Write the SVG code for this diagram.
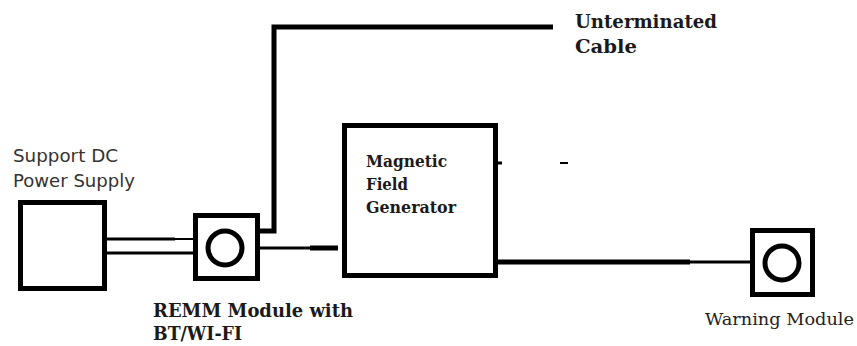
<svg xmlns="http://www.w3.org/2000/svg" width="857" height="346" viewBox="0 0 857 346">
<style>
.box{fill:#fff;stroke:#000;stroke-width:5}
.ring{fill:none;stroke:#000;stroke-width:5}
.w{fill:none;stroke:#000;stroke-linecap:butt}
.bold{font-family:"DejaVu Serif","Liberation Serif",serif;font-weight:bold;fill:#1a1a1a}
.sans{font-family:"DejaVu Sans","Liberation Sans",sans-serif;fill:#333;font-size:17px}
.serif{font-family:"DejaVu Serif","Liberation Serif",serif;fill:#222;font-size:17px}
</style>
<rect width="857" height="346" fill="#fff"/>
<g id="connectors">
<line class="w" x1="106" y1="239" x2="175" y2="239" stroke-width="3"/>
<line class="w" x1="175" y1="239" x2="194" y2="239" stroke-width="2"/>
<line class="w" x1="100" y1="253" x2="194" y2="253" stroke-width="3"/>
<polyline class="w" points="258,231 274,231 274,27 553,27" stroke-width="5"/>
<line class="w" x1="260" y1="248" x2="310" y2="248" stroke-width="3"/>
<line class="w" x1="310" y1="248" x2="338" y2="248" stroke-width="5"/>
<line class="w" x1="496" y1="262" x2="690" y2="262" stroke-width="5"/>
<line class="w" x1="690" y1="262" x2="751" y2="262" stroke-width="3"/>
</g>
<g id="power-supply">
<rect class="box" x="20.5" y="202.5" width="84" height="86"/>
<text class="sans" x="13" y="162" textLength="105" lengthAdjust="spacingAndGlyphs">Support DC</text>
<text class="sans" x="13" y="187" textLength="122" lengthAdjust="spacingAndGlyphs">Power Supply</text>
</g>
<g id="remm-module">
<rect class="box" x="195.5" y="215.5" width="62" height="63"/>
<circle class="ring" cx="225" cy="248" r="17"/>
<text class="bold" x="153" y="317" font-size="19" textLength="200" lengthAdjust="spacingAndGlyphs">REMM Module with</text>
<text class="bold" x="153" y="340" font-size="19" textLength="89" lengthAdjust="spacingAndGlyphs">BT/WI-FI</text>
</g>
<g id="unterminated-cable">
<text class="bold" x="575" y="28" font-size="18" textLength="142" lengthAdjust="spacingAndGlyphs">Unterminated</text>
<text class="bold" x="575" y="53" font-size="18" textLength="62" lengthAdjust="spacingAndGlyphs">Cable</text>
</g>
<g id="magnetic-field-generator">
<rect class="box" x="344.5" y="125.5" width="151" height="150"/>
<line class="w" x1="497" y1="163" x2="502" y2="163" stroke-width="3"/>
<line class="w" x1="560" y1="163" x2="568" y2="163" stroke-width="2"/>
<text class="bold" x="366" y="167" font-size="16" textLength="81" lengthAdjust="spacingAndGlyphs">Magnetic</text>
<text class="bold" x="366" y="190" font-size="16" textLength="42" lengthAdjust="spacingAndGlyphs">Field</text>
<text class="bold" x="366" y="213" font-size="16" textLength="90" lengthAdjust="spacingAndGlyphs">Generator</text>
</g>
<g id="warning-module">
<rect class="box" x="752.5" y="230.5" width="60" height="64"/>
<circle class="ring" cx="782" cy="263" r="17"/>
<text class="serif" x="705" y="325" textLength="149" lengthAdjust="spacingAndGlyphs">Warning Module</text>
</g>
</svg>
